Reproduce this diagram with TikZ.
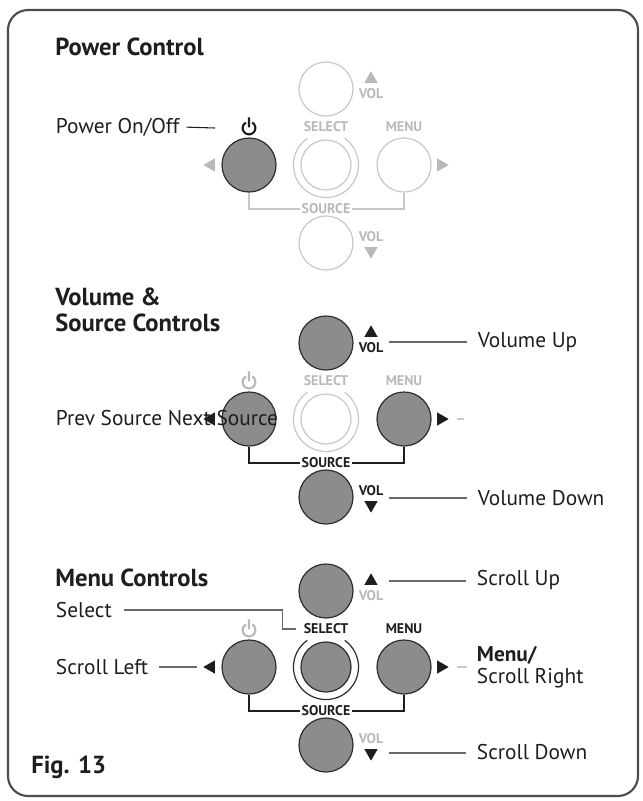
\documentclass[tikz,border=0pt]{standalone}
\usepackage{fontspec}
\setmainfont{PT Sans}
\usetikzlibrary{shapes.geometric}
\definecolor{KeyOn}{RGB}{140,140,140}
\definecolor{KeyEdge}{RGB}{45,45,45}
\definecolor{KeyOff}{RGB}{200,200,200}
\definecolor{TextOff}{RGB}{185,185,185}
\definecolor{LeadGray}{RGB}{105,105,105}
\definecolor{InkBlack}{RGB}{30,30,30}
\tikzset{pwr/.pic={\draw[line width=1.6pt] (60:4.8pt) arc[start angle=60,end angle=-240,radius=4.8pt] (0pt,0.5pt) -- (0pt,8pt);}}

\begin{document}
\begin{tikzpicture}[x=0.75pt,y=-0.75pt,
    kon/.style={circle,draw=KeyEdge,fill=KeyOn,line width=0.9pt,minimum size=40.5pt,inner sep=0pt},
    koff/.style={circle,draw=KeyOff,fill=white,line width=0.9pt,minimum size=40.5pt,inner sep=0pt},
    klbl/.style={font=\bfseries\fontsize{10.5}{12}\selectfont,inner sep=1pt},
    vol/.style={font=\bfseries\fontsize{10.5}{11}\selectfont,inner sep=1pt},
    arrowtri/.style={regular polygon,regular polygon sides=3,inner sep=0pt,minimum size=11.5pt,draw=none},
    lbl/.style={font=\fontsize{16}{17}\selectfont,inner sep=2pt,anchor=west,text=InkBlack,align=left},
    ttl/.style={font=\bfseries\fontsize{18.5}{20}\selectfont,inner sep=0pt,anchor=west,align=left,text=InkBlack},
    lead/.style={draw=LeadGray,line width=0.8pt},
    brk/.style={line width=1.2pt}]
  \useasboundingbox (0,0) rectangle (643,801);
  \draw[line width=1.6pt,draw=KeyEdge!85,rounded corners=15pt] (8,10) rectangle (638,796);

  \node[ttl] (t1) at (55,47) {Power Control};
  \node[koff] (p1up) at (326,89) {};
  \node[kon] (p1lt) at (249,165) {};
  \node[koff,minimum size=37.5pt] (p1sel) at (326,165) {};
  \node[koff] (p1rt) at (404,165) {};
  \node[koff] (p1dn) at (326,243) {};
  \draw[KeyOff,line width=0.9pt] (p1sel) ++(125:24.4pt) arc[start angle=125,end angle=415,radius=24.4pt];
  \coordinate (p1pwr) at (249,128);
  \pic[InkBlack] at (p1pwr) {pwr};
  \node[klbl,TextOff] (p1selt) at (326,127) {SELECT};
  \node[klbl,TextOff] (p1menu) at (404,127) {MENU};
  \node[arrowtri,fill=TextOff] (p1vut) at (371,79) {};
  \node[vol,TextOff] (p1vu) at (371,94) {VOL};
  \node[vol,TextOff] (p1vd) at (371,237) {VOL};
  \node[arrowtri,fill=TextOff,shape border rotate=180] (p1vdt) at (371,251) {};
  \node[arrowtri,fill=TextOff,shape border rotate=90] (p1ltt) at (211,165) {};
  \node[arrowtri,fill=TextOff,shape border rotate=270] (p1rtt) at (441,165) {};
  \node[klbl,TextOff] (p1src) at (326,209) {SOURCE};
  \draw[brk,KeyOff] (p1lt.south) |- (p1src.west) (p1src.east) -| (p1rt.south);
  \node[lbl] (p1pow) at (53,127) {Power On/Off};
  \draw[lead,InkBlack,shorten <=3pt] (p1pow.east) -- ([xshift=-25.5pt]p1pwr);

  \node[ttl] (t2) at (55,310) {Volume \&\\Source Controls};
  \node[kon] (p2up) at (326,343) {};
  \node[kon] (p2lt) at (249,419) {};
  \node[koff,minimum size=37.5pt] (p2sel) at (326,419) {};
  \node[kon] (p2rt) at (404,419) {};
  \node[kon] (p2dn) at (326,497) {};
  \draw[KeyOff,line width=0.9pt] (p2sel) ++(125:24.4pt) arc[start angle=125,end angle=415,radius=24.4pt];
  \coordinate (p2pwr) at (249,382);
  \pic[TextOff] at (p2pwr) {pwr};
  \node[klbl,TextOff] (p2selt) at (326,381) {SELECT};
  \node[klbl,TextOff] (p2menu) at (404,381) {MENU};
  \node[arrowtri,fill=InkBlack] (p2vut) at (371,333) {};
  \node[vol,InkBlack] (p2vu) at (371,348) {VOL};
  \node[vol,InkBlack] (p2vd) at (371,491) {VOL};
  \node[arrowtri,fill=InkBlack,shape border rotate=180] (p2vdt) at (371,505) {};
  \node[arrowtri,fill=InkBlack,shape border rotate=90] (p2ltt) at (211,419) {};
  \node[arrowtri,fill=InkBlack,shape border rotate=270] (p2rtt) at (441,419) {};
  \node[klbl,InkBlack] (p2src) at (326,463) {SOURCE};
  \draw[brk,InkBlack] (p2lt.south) |- (p2src.west) (p2src.east) -| (p2rt.south);
  \node[lbl] (p2vup) at (475,342) {Volume Up};
  \node[lbl] (p2vdn) at (475,498) {Volume Down};
  \draw[lead,shorten <=10pt,shorten >=6pt] (p2vup.west -| p2vut.east) -- (p2vup.west);
  \draw[lead,shorten <=10pt,shorten >=6pt] (p2vdn.west -| p2vdt.east) -- (p2vdn.west);
  \coordinate (p2dash) at (464,419);
  \draw[lead,KeyOff,shorten <=6pt] (p2rtt.east) -- (p2dash);
  \node[lbl] (p2prev) at (53,418) {Prev Source Next Source};

  \node[ttl] (t3) at (55,578) {Menu Controls};
  \node[kon] (p3up) at (326,591) {};
  \node[kon] (p3lt) at (249,667) {};
  \node[kon,minimum size=37.5pt] (p3sel) at (326,667) {};
  \node[kon] (p3rt) at (404,667) {};
  \node[kon] (p3dn) at (326,745) {};
  \draw[KeyEdge,line width=0.9pt] (p3sel) ++(125:24.4pt) arc[start angle=125,end angle=415,radius=24.4pt];
  \coordinate (p3pwr) at (249,630);
  \pic[TextOff] at (p3pwr) {pwr};
  \node[klbl,InkBlack] (p3selt) at (326,629) {SELECT};
  \node[klbl,InkBlack] (p3menu) at (404,629) {MENU};
  \node[arrowtri,fill=InkBlack] (p3vut) at (371,581) {};
  \node[vol,TextOff] (p3vu) at (371,596) {VOL};
  \node[vol,TextOff] (p3vd) at (371,739) {VOL};
  \node[arrowtri,fill=InkBlack,shape border rotate=180] (p3vdt) at (371,753) {};
  \node[arrowtri,fill=InkBlack,shape border rotate=90] (p3ltt) at (211,667) {};
  \node[arrowtri,fill=InkBlack,shape border rotate=270] (p3rtt) at (441,667) {};
  \node[klbl,InkBlack] (p3src) at (326,711) {SOURCE};
  \draw[brk,InkBlack] (p3lt.south) |- (p3src.west) (p3src.east) -| (p3rt.south);
  \node[lbl] (p3sct) at (53,610) {Select};
  \node[lbl] (p3sl) at (53,667) {Scroll Left};
  \node[lbl] (p3su) at (474,580) {Scroll Up};
  \node[lbl] (p3sr) at (474,667) {\textbf{Menu/}\\Scroll Right};
  \node[lbl] (p3sd) at (474,752) {Scroll Down};
  \draw[lead,shorten <=7pt,shorten >=5pt] (p3sct.east) -| ([xshift=-15pt]p3selt.west) -- (p3selt.west);
  \draw[lead,shorten <=6pt,shorten >=4pt] (p3sl.east) -- (p3ltt.west);
  \draw[lead,shorten <=10pt,shorten >=6pt] (p3vut.east) -- (p3vut.east -| p3su.west);
  \draw[lead,shorten <=10pt,shorten >=6pt] (p3vdt.east) -- (p3vdt.east -| p3sd.west);
  \draw[lead,KeyOff,shorten <=6pt,shorten >=5pt] (p3rtt.east) -- (p3sr.west);
  \node[ttl] (fig) at (31,767) {Fig. 13};
\end{tikzpicture}
\end{document}
